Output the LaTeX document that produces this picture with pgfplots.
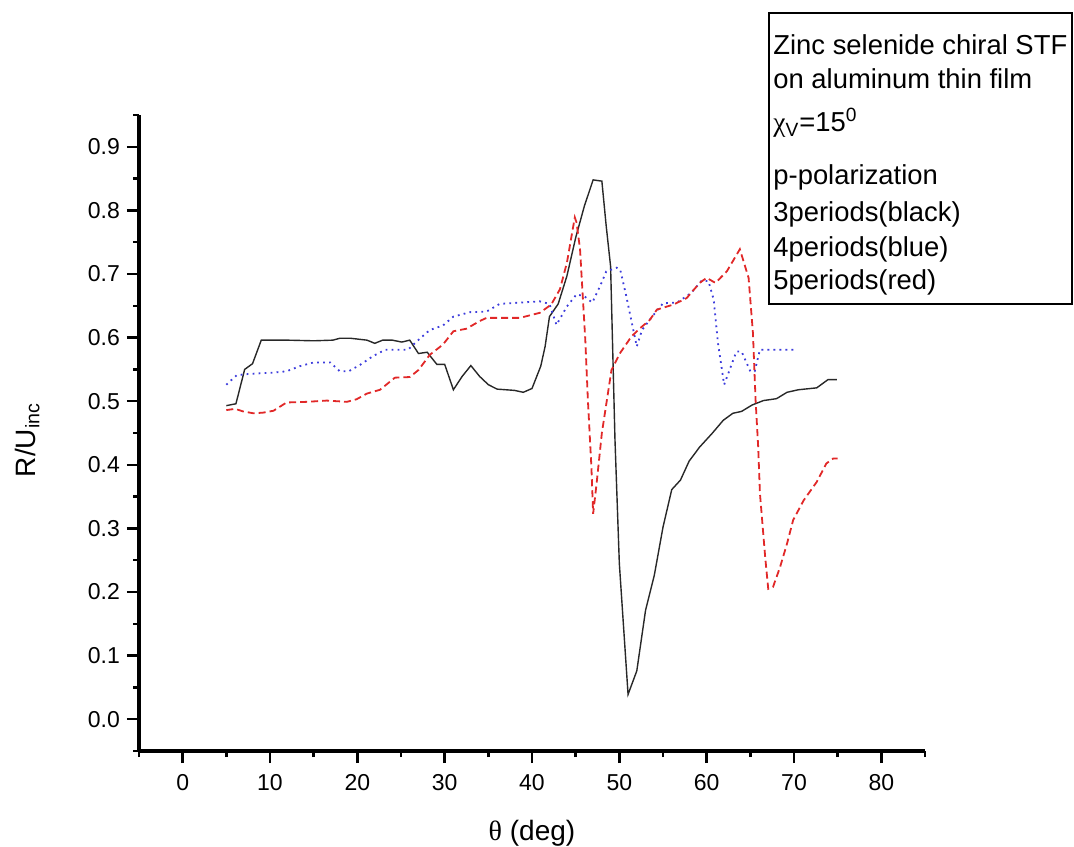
\documentclass[border=0pt]{standalone}
\usepackage{fontspec}
\setmainfont{Liberation Sans}
\newfontfamily\symf{Liberation Serif}
\usepackage{pgfplots}
\pgfplotsset{compat=1.18}

\definecolor{curveblack}{RGB}{40,40,40}
\definecolor{curveblue}{RGB}{60,60,220}
\definecolor{curvered}{RGB}{225,40,40}

\begin{document}
\begin{tikzpicture}
\begin{axis}[
  scale only axis, width=393pt, height=318pt,
  xmin=-5, xmax=85, ymin=-0.05, ymax=0.95,
  axis lines=left,
  x axis line style={-, line width=1.6pt},
  y axis line style={-, line width=1.6pt},
  tick align=outside, tick style={black, line width=1.2pt},
  major tick length=6pt, minor tick length=3pt,
  xtick={0,10,...,80}, minor xtick={-5,5,...,85},
  ytick={0,0.1,...,0.9}, minor ytick={-0.05,0.05,...,0.95},
  /pgf/number format/assume math mode=true,
  yticklabel style={/pgf/number format/fixed, /pgf/number format/fixed zerofill, /pgf/number format/precision=1},
  xticklabel style={yshift=-2pt},
  ticklabel style={font=\fontsize{11.5}{13}\selectfont},
  xlabel={{\symf θ} (deg)}, ylabel={R/U\textsubscript{inc}},
  label style={font=\fontsize{14}{16}\selectfont},
  xlabel style={at={(axis description cs:0.5,-0.14)}, anchor=base},
  ylabel style={at={(axis description cs:-0.1323,0.489)}, anchor=base},
]
% 3 periods (black)
\addplot[curveblack, line width=0.7pt] coordinates {
(5.0,0.493) (6.1,0.496) (7.1,0.550) (8.0,0.559) (9.0,0.596) (12,0.596) (15,0.595) (17.2,0.596)
(18,0.599) (19.2,0.599) (21.1,0.596) (22,0.591) (22.9,0.596) (24,0.596) (25.1,0.593) (26,0.596)
(27,0.575) (28,0.577) (29.1,0.558) (30,0.558) (31,0.518) (32,0.539) (33,0.556) (34,0.539)
(35,0.526) (36,0.519) (38,0.517) (39,0.514) (40,0.520) (41,0.555) (41.5,0.586) (42,0.633)
(43,0.653) (44,0.697) (45,0.757) (46,0.807) (47,0.848) (48,0.846) (48.5,0.775) (49,0.712)
(49.5,0.44) (50,0.245) (51,0.039) (52,0.076) (53,0.171) (54,0.226) (55,0.302) (56,0.361)
(57,0.376) (58,0.406) (59.2,0.428) (60.6,0.449) (61.9,0.470) (63,0.481) (64,0.484) (65.2,0.494)
(66.5,0.501) (68,0.504) (69.2,0.514) (70.5,0.518) (72.6,0.521) (73.9,0.534) (74.9,0.534)};
% 4 periods (blue)
\addplot[curveblue, line width=0.9pt, dash pattern=on 0.9pt off 2.1pt] coordinates {
(5,0.526) (6.2,0.541) (7.7,0.543) (10.4,0.545) (11.9,0.547) (13.4,0.555) (15,0.561) (16.9,0.561)
(18,0.547) (19,0.547) (20.3,0.557) (21.8,0.571) (23.2,0.581) (25.8,0.581) (26.8,0.594) (28.3,0.612)
(29.8,0.619) (31,0.633) (32.9,0.640) (34.8,0.641) (36.3,0.653) (38.6,0.655) (40.9,0.657) (42,0.653)
(42.8,0.620) (44,0.649) (45.1,0.668) (46,0.665) (46.9,0.655) (47.8,0.681) (48.5,0.704) (49.7,0.710)
(50.1,0.707) (50.8,0.665) (51.6,0.612) (52,0.586) (52.6,0.612) (53.7,0.632) (55,0.654) (56.6,0.655)
(58.2,0.670) (59.4,0.689) (60.2,0.689) (60.8,0.660) (61.3,0.591) (62,0.526) (62.7,0.552) (63.4,0.578)
(64,0.578) (65,0.547) (65.5,0.547) (66.1,0.581) (70,0.581)};
% 5 periods (red)
\addplot[curvered, line width=0.9pt, dash pattern=on 3.5pt off 2pt] coordinates {
(5,0.486) (6,0.488) (6.9,0.484) (8.1,0.481) (9.2,0.482) (10.4,0.485) (11.9,0.498) (14.2,0.499)
(16.5,0.501) (18.8,0.499) (19.9,0.503) (21.1,0.512) (22.6,0.518) (24.3,0.537) (26,0.538) (27,0.549)
(28.3,0.573) (29.8,0.589) (31,0.610) (32.5,0.614) (34,0.626) (34.8,0.631) (38.6,0.631) (40.9,0.639)
(42.2,0.652) (43.2,0.676) (44,0.718) (44.9,0.789) (45.1,0.781) (45.5,0.739) (46.1,0.597) (46.4,0.502)
(46.8,0.397) (47,0.323) (47.4,0.371) (48,0.450) (48.4,0.486) (49.1,0.549) (50.1,0.576) (51.4,0.602)
(52.4,0.615) (53.5,0.628) (54.3,0.644) (56.2,0.652) (57.7,0.662) (59.2,0.686) (60,0.694) (61,0.686)
(62.3,0.704) (63.8,0.739) (64.8,0.694) (65.3,0.607) (65.6,0.502) (65.9,0.428) (66.1,0.355) (66.7,0.255)
(67.05,0.205) (67.6,0.208) (68.4,0.239) (69.2,0.276) (69.9,0.313) (71.1,0.344) (72.6,0.373) (73.7,0.402)
(74.5,0.410) (75,0.410)};
\end{axis}
% annotation box
\draw[line width=0.75pt] (315pt,223.5pt) rectangle (466.5pt,369pt);
\begin{scope}[every node/.style={anchor=base west, inner sep=0pt, font=\fontsize{13.7}{16}\selectfont}]
\node at (317pt,348pt) {Zinc selenide chiral STF};
\node at (317pt,331pt) {on aluminum thin film};
\node at (317pt,309.5pt) {{\symf χ}\textsubscript{V}=15\textsuperscript{0}};
\node at (317pt,283pt) {p-polarization};
\node at (317pt,264.5pt) {3periods(black)};
\node at (317pt,247pt) {4periods(blue)};
\node at (317pt,230.5pt) {5periods(red)};
\end{scope}
\pgfresetboundingbox
\useasboundingbox (-69.5pt,-47.5pt) rectangle (467.5pt,375.5pt);
\end{tikzpicture}
\end{document}
